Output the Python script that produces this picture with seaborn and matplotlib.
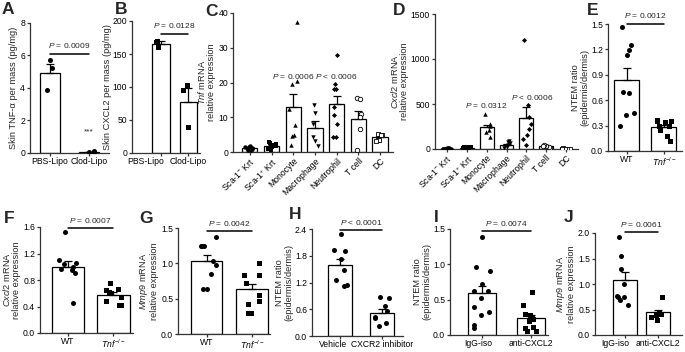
import numpy as np
import pandas as pd
import seaborn as sns
import matplotlib.pyplot as plt
from matplotlib.ticker import FormatStrFormatter
from matplotlib.transforms import ScaledTranslation

# ---- data ----
# A: skin TNF-a
a_groups = ['PBS-Lipo', 'Clod-Lipo']
a_mean = [4.95, 0.07]
a_sem = [0.5, 0.02]
a_points = [[5.7, 5.2, 3.9], [0.05, 0.08, 0.1]]

# B: skin CXCL2
b_groups = ['PBS-Lipo', 'Clod-Lipo']
b_mean = [165, 78]
b_sem = [5, 20]
b_points = [[170, 160, 168], [103, 95, 40]]

# C / D: sorted cell types
cell_types = [r'Sca-1$^{-}$ Krt', r'Sca-1$^{+}$ Krt', 'Monocyte', 'Macrophage', 'Neutrophil', 'T cell', 'DC']
c_mean = [1.2, 1.8, 13.0, 7.0, 13.7, 9.6, 4.2]
c_sem = [0.15, 0.25, 3.7, 1.8, 2.5, 2.2, 0.3]
c_points = [[0.6, 0.8, 1.0, 1.2, 1.5, 1.8, 0.9, 1.4, 0.7, 1.1],
            [0.5, 1.0, 1.5, 2.0, 2.5, 2.8, 1.2, 2.2, 1.7, 1.9],
            [37.5, 20.3, 19.5, 12.5, 7.8, 4.8, 4.6, 2.0],
            [13.5, 11.3, 8.0, 4.3, 3.3, 1.8],
            [27.8, 19.7, 18.2, 18.2, 13.0, 10.6, 8.0, 4.3, 4.3],
            [15.5, 15.2, 11.0, 10.0, 6.5, 0.5],
            [5.0, 5.1, 4.8, 3.5, 3.4, 3.3]]
d_mean = [5, 15, 240, 50, 340, 30, 5]
d_sem = [1, 3, 27, 10, 125, 4, 1]
d_points = [[2, 3, 4, 5, 6, 7, 8, 5, 4, 3],
            [5, 10, 12, 15, 18, 20, 22, 25, 14, 9],
            [392, 280, 260, 215, 185, 133],
            [90, 75, 62, 45, 35, 25, 15],
            [1210, 490, 360, 280, 220, 160, 110, 50],
            [15, 25, 30, 35, 40, 38],
            [3, 4, 5, 6, 5, 4]]

ko_groups = ['WT', r'$\it{Tnf}^{-/-}$']

# E: NTEM ratio WT vs Tnf-/-
e_mean = [0.84, 0.28]
e_sem = [0.14, 0.03]
e_points = [[1.46, 1.25, 1.19, 1.13, 0.70, 0.69, 0.45, 0.42, 0.29],
            [0.37, 0.35, 0.35, 0.34, 0.30, 0.29, 0.25, 0.18, 0.12]]

# F: Cxcl2 mRNA WT vs Tnf-/-
f_mean = [1.0, 0.58]
f_sem = [0.09, 0.04]
f_points = [[1.52, 1.10, 1.05, 1.04, 1.0, 0.97, 0.95, 0.90, 0.45],
            [0.75, 0.67, 0.65, 0.62, 0.60, 0.55, 0.48, 0.43, 0.42]]

# G: Mmp9 mRNA WT vs Tnf-/-
g_mean = [1.04, 0.63]
g_sem = [0.08, 0.08]
g_points = [[1.37, 1.25, 1.24, 1.24, 1.04, 0.98, 0.85, 0.63, 0.63],
            [1.0, 0.83, 0.83, 0.72, 0.55, 0.47, 0.43, 0.30, 0.30]]

# H: NTEM ratio vehicle vs CXCR2 inhibitor
h_groups = ['Vehicle', 'CXCR2 inhibitor']
h_mean = [1.6, 0.52]
h_sem = [0.13, 0.08]
h_points = [[2.28, 1.92, 1.90, 1.72, 1.48, 1.25, 1.15, 1.12],
            [0.88, 0.86, 0.68, 0.55, 0.42, 0.40, 0.30, 0.22]]

ab_groups = ['IgG-iso', 'anti-CXCL2']

# I: NTEM ratio IgG vs anti-CXCL2
i_mean = [0.59, 0.24]
i_sem = [0.1, 0.04]
i_points = [[1.38, 0.96, 0.90, 0.72, 0.62, 0.62, 0.52, 0.40, 0.32, 0.28, 0.14, 0.10],
            [0.61, 0.42, 0.30, 0.28, 0.26, 0.24, 0.22, 0.20, 0.12, 0.10, 0.06, 0.05]]

# J: Mmp9 mRNA IgG vs anti-CXCL2
j_mean = [1.08, 0.45]
j_sem = [0.15, 0.05]
j_points = [[1.93, 1.55, 1.30, 1.0, 0.76, 0.75, 0.74, 0.68, 0.58],
            [0.75, 0.45, 0.42, 0.40, 0.35, 0.30]]


np.random.seed(3)  # stripplot jitter
sns.set_style('ticks')
plt.rcParams['font.family'] = ['Liberation Sans', 'DejaVu Sans']
plt.rcParams['mathtext.fontset'] = 'custom'
plt.rcParams['mathtext.rm'] = 'Liberation Sans'
plt.rcParams['mathtext.it'] = 'Liberation Sans:italic'
plt.rcParams['axes.linewidth'] = 0.9
plt.rcParams['axes.edgecolor'] = '#333333'
plt.rcParams['xtick.major.size'] = 2.2
plt.rcParams['ytick.major.size'] = 2.5
plt.rcParams['xtick.major.width'] = 0.9
plt.rcParams['ytick.major.width'] = 0.9
plt.rcParams['xtick.major.pad'] = 1
plt.rcParams['ytick.major.pad'] = 1

W, H = 685, 352
fig = plt.figure(figsize=(W / 100, H / 100), dpi=100)
TICK_FS = 6.2
LAB_FS = 6.7
P_FS = 6


def panel(left, top, right, bottom):
    return fig.add_axes([left / W, 1 - bottom / H, (right - left) / W, (bottom - top) / H])


def bar_dots(ax, groups, means, sems, points, markers, width, hollow=None, msize=3.6):
    sns.barplot(x=groups, y=means, order=groups, color='white', saturation=1,
                edgecolor='black', linewidth=0.9, width=width, errorbar=None, ax=ax)
    ax.errorbar(range(len(groups)), means, yerr=[np.zeros(len(sems)), sems], fmt='none',
                ecolor='black', elinewidth=0.9, capsize=2.8, capthick=0.9)
    for i, g in enumerate(groups):
        df = pd.DataFrame({'group': [g] * len(points[i]), 'value': points[i]})
        size = msize * 0.8 if markers[i] == 'D' else msize
        if hollow is not None and hollow[i]:
            sns.stripplot(data=df, x='group', y='value', order=groups, marker=markers[i], jitter=width * 0.32,
                          size=size, color='white', edgecolor='black', linewidth=0.6, ax=ax)
        else:
            sns.stripplot(data=df, x='group', y='value', order=groups, marker=markers[i], jitter=width * 0.32,
                          size=size, color='black', linewidth=0, ax=ax)
    ax.set_xlabel('')
    ax.set_ylabel('')
    sns.despine(ax=ax)
    ax.tick_params(labelsize=TICK_FS, colors='#333333', labelcolor='black')


def ylab(ax, s, pad=1.5):
    ax.set_ylabel(s, fontsize=LAB_FS, labelpad=pad, linespacing=1.0)


def shift_first_label(ax, inches):
    # first category label sits a little left of its bar in the original
    lab = ax.get_xticklabels()[0]
    lab.set_transform(lab.get_transform() + ScaledTranslation(inches, 0, fig.dpi_scale_trans))


def sig_line(ax, y, text, x0=0, x1=1, dy=0.03):
    ax.plot([x0, x1], [y, y], color='black', lw=1.1, clip_on=False)
    top = ax.get_ylim()[1]
    ax.text((x0 + x1) / 2, y + dy * top, text, ha='center', va='bottom', fontsize=P_FS, clip_on=False)


def letter(x, y, s):
    fig.text(x / W, 1 - y / H, s, fontsize=12.5, fontweight='bold', va='top', ha='left')


# A
ax = panel(30, 23, 109, 153)
bar_dots(ax, a_groups, a_mean, a_sem, a_points, ['o', 'o'], 0.51)
ax.set_ylim(0, 8)
ax.set_yticks([0, 2, 4, 6, 8])
ax.set_xlim(-0.5, 1.5)
ylab(ax, 'Skin TNF-α per mass (pg/mg)')
sig_line(ax, 6.1, r'$\it{P}$ = 0.0009')
ax.text(1, 1.3, '***', ha='center', va='center', fontsize=6)

# B
ax = panel(132, 21, 200, 153)
bar_dots(ax, b_groups, b_mean, b_sem, b_points, ['s', 's'], 0.63)
ax.set_ylim(0, 200)
ax.set_yticks([0, 50, 100, 150, 200])
ax.set_xlim(-1.07, 1.44)
ylab(ax, 'Skin CXCL2 per mass (pg/mg)', pad=0.5)
sig_line(ax, 180, r'$\it{P}$ = 0.0128')
shift_first_label(ax, -0.15)

cell_markers = ['o', 's', '^', 'v', 'D', 'o', 's']
cell_hollow = [False, False, False, False, False, True, True]

# C
ax = panel(233, 13, 393, 152)
bar_dots(ax, cell_types, c_mean, c_sem, c_points, cell_markers, 0.7, cell_hollow, msize=3.2)
ax.set_ylim(0, 40)
ax.set_yticks([0, 10, 20, 30, 40])
ax.set_xlim(-0.78, 6.6)
ylab(ax, r'$\it{Tnf}$ mRNA' + '\nrelative expression')
plt.setp(ax.get_xticklabels(), rotation=45, ha='right', rotation_mode='anchor')
ax.text(2, 20.4, r'$\it{P}$ = 0.0006', ha='center', va='bottom', fontsize=P_FS)
ax.text(4, 20.4, r'$\it{P}$ < 0.0006', ha='center', va='bottom', fontsize=P_FS)

# D
ax = panel(435, 14, 578, 149)
bar_dots(ax, cell_types, d_mean, d_sem, d_points, cell_markers, 0.7, cell_hollow, msize=3.2)
ax.set_ylim(0, 1500)
ax.set_yticks([0, 500, 1000, 1500])
ax.set_xlim(-0.6, 6.6)
ylab(ax, r'$\it{Cxcl2}$ mRNA' + '\nrelative expression')
plt.setp(ax.get_xticklabels(), rotation=45, ha='right', rotation_mode='anchor')
ax.text(2, 430, r'$\it{P}$ = 0.0312', ha='center', va='bottom', fontsize=P_FS)
ax.text(4.3, 520, r'$\it{P}$ < 0.0006', ha='center', va='bottom', fontsize=P_FS)

# E
ax = panel(608, 24, 682, 151)
bar_dots(ax, ko_groups, e_mean, e_sem, e_points, ['o', 's'], 0.68)
ax.set_ylim(0, 1.5)
ax.set_yticks([0, 0.3, 0.6, 0.9, 1.2, 1.5])
ax.yaxis.set_major_formatter(FormatStrFormatter('%.1f'))
ax.set_xlim(-0.51, 1.49)
ylab(ax, 'NTEM ratio\n(epidermis/dermis)')
sig_line(ax, 1.5, r'$\it{P}$ = 0.0012')

# F
ax = panel(40, 227, 133, 333)
bar_dots(ax, ko_groups, f_mean, f_sem, f_points, ['o', 's'], 0.73)
ax.set_ylim(0, 1.6)
ax.set_yticks([0, 0.4, 0.8, 1.2, 1.6])
ax.yaxis.set_major_formatter(FormatStrFormatter('%.1f'))
ax.set_xlim(-0.62, 1.44)
ylab(ax, r'$\it{Cxcl2}$ mRNA' + '\nrelative expression')
sig_line(ax, 1.58, r'$\it{P}$ = 0.0007')

# G
ax = panel(178, 228, 270, 334)
bar_dots(ax, ko_groups, g_mean, g_sem, g_points, ['o', 's'], 0.69)
ax.set_ylim(0, 1.5)
ax.set_yticks([0, 0.5, 1.0, 1.5])
ax.yaxis.set_major_formatter(FormatStrFormatter('%.1f'))
ax.set_xlim(-0.64, 1.4)
ylab(ax, r'$\it{Mmp9}$ mRNA' + '\nrelative expression')
sig_line(ax, 1.46, r'$\it{P}$ = 0.0042')

# H
ax = panel(312, 229, 403, 336)
bar_dots(ax, h_groups, h_mean, h_sem, h_points, ['o', 'o'], 0.57)
ax.set_ylim(0, 2.4)
ax.set_yticks([0, 0.6, 1.2, 1.8, 2.4])
ax.yaxis.set_major_formatter(FormatStrFormatter('%.1f'))
ax.set_xlim(-0.67, 1.5)
ylab(ax, 'NTEM ratio\n(epidermis/dermis)')
sig_line(ax, 2.38, r'$\it{P}$ < 0.0001')
shift_first_label(ax, -0.07)

# I
ax = panel(450, 229, 548, 335)
bar_dots(ax, ab_groups, i_mean, i_sem, i_points, ['o', 's'], 0.57)
ax.set_ylim(0, 1.5)
ax.set_yticks([0, 0.5, 1.0, 1.5])
ax.yaxis.set_major_formatter(FormatStrFormatter('%.1f'))
ax.set_xlim(-0.65, 1.35)
ylab(ax, 'NTEM ratio\n(epidermis/dermis)')
sig_line(ax, 1.47, r'$\it{P}$ = 0.0074')
shift_first_label(ax, -0.04)

# J
ax = panel(595, 233, 682, 335)
bar_dots(ax, ab_groups, j_mean, j_sem, j_points, ['o', 's'], 0.72)
ax.set_ylim(0, 2.0)
ax.set_yticks([0, 0.5, 1.0, 1.5, 2.0])
ax.yaxis.set_major_formatter(FormatStrFormatter('%.1f'))
ax.set_xlim(-0.9, 1.73)
ylab(ax, r'$\it{Mmp9}$ mRNA' + '\nrelative expression')
sig_line(ax, 2.02, r'$\it{P}$ = 0.0061')
shift_first_label(ax, -0.1)

for x, y, s in [(2, 2, 'A'), (115, 2, 'B'), (205, 4, 'C'), (393, 3, 'D'), (587, 3, 'E'),
                (4, 211, 'F'), (139, 211, 'G'), (289, 207, 'H'), (434, 210, 'I'), (564, 210, 'J')]:
    letter(x, y, s)

fig.savefig('out.png', dpi=100)
